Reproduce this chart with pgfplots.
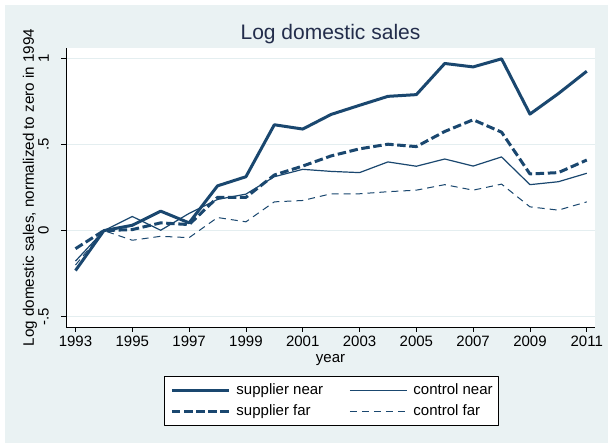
\documentclass[border=0pt]{standalone}
\usepackage{fontspec}
\setmainfont{Liberation Sans}
\usepackage{graphicx}
\usepackage{pgfplots}
\pgfplotsset{compat=1.18}
\definecolor{stnavy}{RGB}{26,71,111}
\definecolor{stbg}{RGB}{234,242,243}
\definecolor{stgrid}{RGB}{228,238,240}
\definecolor{sttitle}{RGB}{35,45,75}
\newcommand{\ytl}[1]{\rotatebox{90}{#1}\hspace*{12bp}}
\begin{document}
\begin{tikzpicture}[x=1bp,y=1bp]
\useasboundingbox (0,0) rectangle (608,443);
\fill[white] (0,0) rectangle (608,443);
\fill[stbg] (5,0) rectangle (608,438);
\begin{axis}[
  scale only axis,
  width=529bp, height=279bp,
  at={(66bp,116bp)}, anchor=south west,
  xmin=1992.666, xmax=2011.29,
  ymin=-0.56, ymax=1.061,
  axis x line*=bottom, axis y line*=left,
  axis line style={black, line width=0.9bp, -},
  axis background/.style={fill=white},
  tick align=outside,
  major tick length=5bp,
  every tick/.style={black, line width=0.8bp},
  xtick={1993,1995,...,2011},
  xticklabels={1993,1995,1997,1999,2001,2003,2005,2007,2009,2011},
  ytick={-0.5,0,0.5,1},
  yticklabels={\ytl{-.5},\ytl{0},\ytl{.5},\ytl{1}},
  ymajorgrids,
  grid style={stgrid, line width=1bp},
  tick label style={font=\fontsize{15bp}{18bp}\selectfont, black},
  xticklabel style={inner sep=0bp, anchor=north, yshift=-4bp},
  yticklabel style={inner sep=0bp, anchor=east},
  title={Log domestic sales},
  title style={font=\fontsize{21bp}{25bp}\selectfont, text=sttitle, at={(axis description cs:0.5,1)}, anchor=base, yshift=3bp, inner sep=0bp},
  xlabel={year},
  xlabel style={font=\fontsize{15bp}{18bp}\selectfont, at={(axis description cs:0.5,0)}, anchor=base, yshift=-36bp, inner sep=0bp},
  ylabel={Log domestic sales, normalized to zero in 1994},
  ylabel style={font=\fontsize{15.2bp}{18bp}\selectfont, at={(axis description cs:-0.068,0.5)}, anchor=center, rotate=0, inner sep=0bp},
  legend columns=2,
  legend cell align=left,
  legend image code/.code={\draw[#1] (0bp,0bp) -- (57bp,0bp);},
  legend style={at={(axis description cs:0.502,-0.1756)}, anchor=north,
    draw=black, line width=0.8bp, fill=white,
    font=\fontsize{15bp}{18bp}\selectfont,
    nodes={inner sep=0bp, text height=11bp, text depth=3.5bp},
    inner xsep=6bp, inner ysep=6.8bp, row sep=6.5bp,
    column sep=6bp,
    /tikz/every even column/.append style={column sep=26bp}},
  line join=round,
]
\addplot[stnavy, line width=3bp, solid] coordinates {
(1993,-0.232)(1994,0)(1995,0.031)(1996,0.113)(1997,0.045)(1998,0.26)(1999,0.313)(2000,0.615)(2001,0.59)(2002,0.675)(2003,0.728)(2004,0.78)(2005,0.79)(2006,0.971)(2007,0.951)(2008,0.998)(2009,0.677)(2010,0.796)(2011,0.926)};
\addlegendentry{supplier near}
\addplot[stnavy, line width=1.2bp, solid] coordinates {
(1993,-0.177)(1994,0)(1995,0.082)(1996,0.002)(1997,0.1)(1998,0.181)(1999,0.212)(2000,0.313)(2001,0.356)(2002,0.344)(2003,0.337)(2004,0.399)(2005,0.374)(2006,0.416)(2007,0.375)(2008,0.428)(2009,0.267)(2010,0.284)(2011,0.333)};
\addlegendentry{control near}
\addplot[stnavy, line width=3bp, dash pattern=on 8.5bp off 3.6bp] coordinates {
(1993,-0.105)(1994,0)(1995,0.006)(1996,0.045)(1997,0.035)(1998,0.193)(1999,0.193)(2000,0.323)(2001,0.375)(2002,0.434)(2003,0.475)(2004,0.502)(2005,0.488)(2006,0.576)(2007,0.644)(2008,0.572)(2009,0.329)(2010,0.337)(2011,0.41)};
\addlegendentry{supplier far}
\addplot[stnavy, line width=1bp, dash pattern=on 7bp off 5bp] coordinates {
(1993,-0.2)(1994,0)(1995,-0.056)(1996,-0.033)(1997,-0.041)(1998,0.076)(1999,0.051)(2000,0.167)(2001,0.175)(2002,0.214)(2003,0.214)(2004,0.226)(2005,0.235)(2006,0.267)(2007,0.235)(2008,0.27)(2009,0.138)(2010,0.119)(2011,0.167)};
\addlegendentry{control far}
\end{axis}
\end{tikzpicture}
\end{document}
